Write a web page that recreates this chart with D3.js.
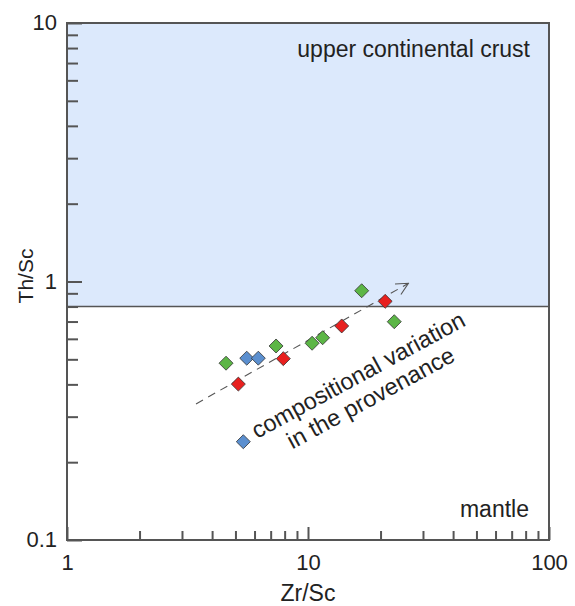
<!DOCTYPE html>
<html><head><meta charset="utf-8">
<script src="https://cdn.jsdelivr.net/npm/d3@7"></script>
<style>
body{margin:0;background:#fff;}
svg text{font-family:"Liberation Sans",Arial,sans-serif;fill:#222;}
</style></head>
<body>
<svg id="chart" width="575" height="606"></svg>
<script>
// ---- data ----
const groups = ["green","blue","red"];
const greenZr = [4.57, 7.37, 10.4, 11.5, 16.7, 22.8];
const greenTh = [0.483, 0.563, 0.577, 0.606, 0.921, 0.699];
const blueZr  = [5.57, 6.22, 5.39];
const blueTh  = [0.505, 0.505, 0.240];
const redZr   = [5.14, 7.90, 13.8, 20.9];
const redTh   = [0.401, 0.503, 0.673, 0.838];
const uccThSc = 0.8;                    // boundary upper continental crust / mantle
const trendZr = [3.43, 26.1];           // dashed arrow
const trendTh = [0.336, 0.984];
const xMajor = [1, 10, 100];
const xTickLabels = ["1", "10", "100"];
const yMajor = [0.1, 1, 10];
const yTickLabels = ["0.1", "1", "10"];
const xMinor = [2,3,4,5,6,7,8,9,20,30,40,50,60,70,80,90];
const yMinor = [0.2,0.3,0.4,0.5,0.6,0.7,0.8,0.9,2,3,4,5,6,7,8,9];
const colors = {green:"#5cb646", blue:"#5b8fcf", red:"#e8201f"};

// ---- layout ----
const L = 67, R = 549, T = 23, B = 540;
const svg = d3.select("#chart");
const x = d3.scaleLog().domain([1,100]).range([L,R]);
const y = d3.scaleLog().domain([0.1,10]).range([B,T]);
const axisColor = "#555";

// UCC field
svg.append("rect").attr("x",L).attr("y",T)
  .attr("width",R-L).attr("height",y(uccThSc)-T)
  .attr("fill","#dce9fc");
svg.append("line").attr("x1",L).attr("x2",R)
  .attr("y1",y(uccThSc)).attr("y2",y(uccThSc))
  .attr("stroke","#555").attr("stroke-width",1.5);

// trend arrow
svg.append("defs").append("marker").attr("id","arr")
  .attr("viewBox","0 0 14 14").attr("refX",13).attr("refY",7)
  .attr("markerWidth",14).attr("markerHeight",14).attr("markerUnits","userSpaceOnUse")
  .attr("orient","auto")
  .append("path").attr("d","M1,1 L13,7 L1,13").attr("fill","none")
  .attr("stroke","#555").attr("stroke-width",1.1);
svg.append("line")
  .attr("x1",x(trendZr[0])).attr("y1",y(trendTh[0]))
  .attr("x2",x(trendZr[1])).attr("y2",y(trendTh[1]))
  .attr("stroke","#555").attr("stroke-width",1.1)
  .attr("stroke-dasharray","8,6").attr("marker-end","url(#arr)");

// points
const series = {
  green: greenZr.map((v,i)=>[v,greenTh[i]]),
  blue:  blueZr.map((v,i)=>[v,blueTh[i]]),
  red:   redZr.map((v,i)=>[v,redTh[i]])
};
const diamond = d3.symbol().type(d3.symbolDiamond2).size(125);
groups.forEach(g=>{
  svg.append("g").selectAll("path").data(series[g]).join("path")
    .attr("d",diamond)
    .attr("transform",d=>`translate(${x(d[0])},${y(d[1])})`)
    .attr("fill",colors[g]).attr("stroke","#333").attr("stroke-width",0.8);
});

// axes (ticks inside)
function styleAxis(g){
  g.select(".domain").remove();
  g.selectAll("line").attr("stroke",axisColor).attr("stroke-width",2);
  g.selectAll("text").attr("font-size",22).attr("fill","#222")
   .attr("font-family","Liberation Sans, Arial, sans-serif");
}
svg.append("g").attr("transform",`translate(0,${B})`)
  .call(d3.axisBottom(x).tickValues(xMinor).tickSize(-9).tickFormat(""))
  .call(styleAxis);
svg.append("g").attr("transform",`translate(0,${B})`)
  .call(d3.axisBottom(x).tickValues(xMajor).tickSize(-13).tickPadding(14)
        .tickFormat((d,i)=>xTickLabels[i]))
  .call(styleAxis);
svg.append("g").attr("transform",`translate(${L},0)`)
  .call(d3.axisLeft(y).tickValues(yMinor).tickSize(-11).tickFormat(""))
  .call(styleAxis);
svg.append("g").attr("transform",`translate(${L},0)`)
  .call(d3.axisLeft(y).tickValues(yMajor).tickSize(-15).tickPadding(10)
        .tickFormat((d,i)=>yTickLabels[i]))
  .call(styleAxis)
  .selectAll("text").attr("dy","0.3em");

// frame
svg.append("rect").attr("x",L).attr("y",T).attr("width",R-L).attr("height",B-T)
  .attr("fill","none").attr("stroke",axisColor).attr("stroke-width",2);

// axis titles
svg.append("text").attr("x",(L+R)/2).attr("y",601).attr("text-anchor","middle")
  .attr("font-size",23).text("Zr/Sc");
svg.append("text").attr("transform","translate(33,276) rotate(-90)")
  .attr("text-anchor","middle").attr("font-size",21).text("Th/Sc");

// field labels
svg.append("text").attr("x",530).attr("y",57).attr("text-anchor","end")
  .attr("font-size",23).text("upper continental crust");
svg.append("text").attr("x",529).attr("y",517).attr("text-anchor","end")
  .attr("font-size",23).text("mantle");

const ann = svg.append("g").attr("transform","translate(362,382) rotate(-28.5)");
ann.append("text").attr("text-anchor","middle").attr("font-size",23.5)
  .text("compositional variation");
ann.append("text").attr("text-anchor","middle").attr("font-size",23.5).attr("y",26)
  .text("in the provenance");
</script>
</body></html>
